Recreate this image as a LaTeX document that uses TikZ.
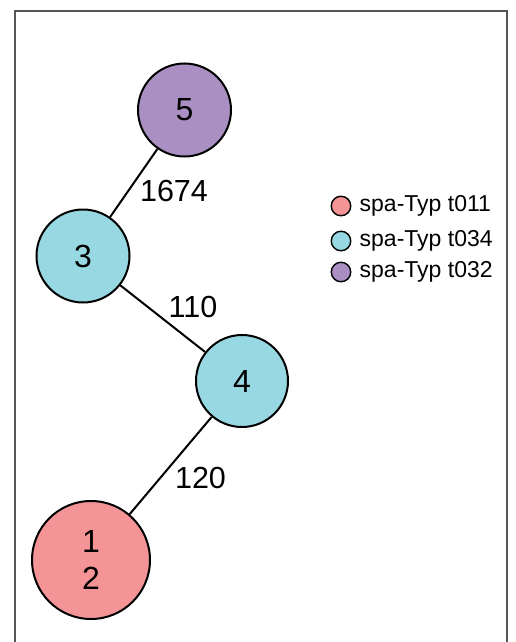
\documentclass[tikz,border=0pt]{standalone}
\usepackage{fontspec}
\setmainfont{Liberation Sans}
\definecolor{cpink}{HTML}{F59496}
\definecolor{ccyan}{HTML}{98D8E2}
\definecolor{cpurp}{HTML}{A98FC2}
\definecolor{frame}{HTML}{555555}
\begin{document}
\begin{tikzpicture}[x=1pt,y=-1pt,
  st/.style={circle,draw=black,line width=2pt,inner sep=0pt,font=\fontsize{32}{37}\selectfont,align=center},
  edge/.style={line width=2pt,draw=black},
  elab/.style={font=\fontsize{30.5}{36}\selectfont,inner sep=0pt},
  leg/.style={circle,draw=black,line width=1.4pt,minimum size=19.5pt,inner sep=0pt},
  legtxt/.style={font=\fontsize{23}{26}\selectfont,anchor=west,inner sep=0pt}]
\useasboundingbox (0,0) rectangle (516,642);
\begin{scope}
\clip (0,0) rectangle (516,642);
\draw[frame,line width=2pt] (15,660) -- (15,11) -- (507,11) -- (507,660);
\end{scope}
\node[st,fill=cpurp,minimum size=93pt] (n5) at (184.5,110) {5};
\node[st,fill=ccyan,minimum size=93pt] (n3) at (83,256) {3};
\node[st,fill=ccyan,minimum size=92pt] (n4) at (242,381) {4};
\node[st,fill=cpink,minimum size=118pt] (n12) at (91,560) {1\\2};
\draw[edge] (n5) -- (n3);
\draw[edge] (n3) -- (n4);
\draw[edge] (n4) -- (n12);
\node[elab] (l1) at (174,191) {1674};
\node[elab] (l2) at (193,307) {110};
\node[elab] (l3) at (200.5,478) {120};
\node[leg,fill=cpink] (g1) at (341,206) {};
\node[leg,fill=ccyan] (g2) at (341,241) {};
\node[leg,fill=cpurp] (g3) at (341,272) {};
\node[legtxt] (t1) at (359.5,206) {spa-Typ t011};
\node[legtxt] (t2) at (359.5,241) {spa-Typ t034};
\node[legtxt] (t3) at (359.5,272) {spa-Typ t032};
\end{tikzpicture}
\end{document}
